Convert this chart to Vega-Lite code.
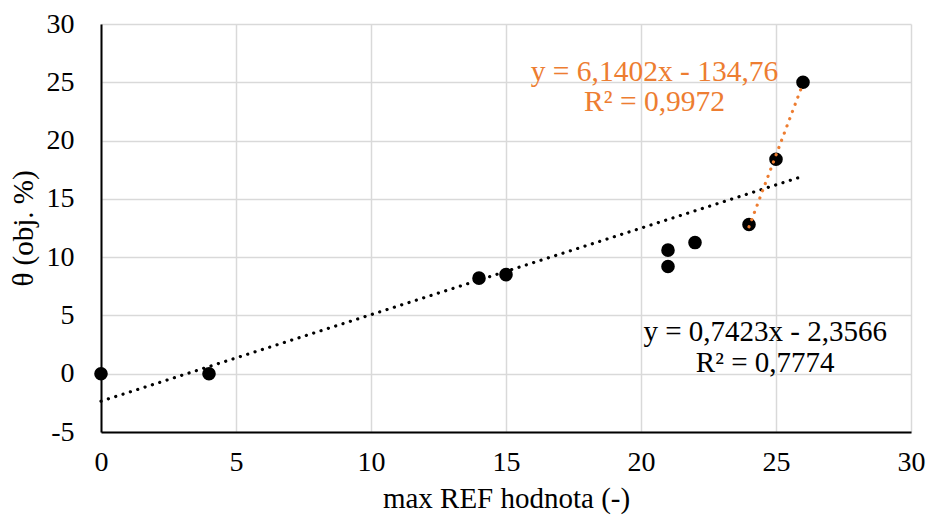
{
  "$schema": "https://vega.github.io/schema/vega-lite/v6.json",
  "width": 810,
  "height": 408,
  "autosize": {"type": "none"},
  "padding": {"left": 101, "top": 24, "right": 16, "bottom": 90},
  "background": "white",
  "config": {
    "view": {"stroke": null},
    "font": "Liberation Serif",
    "style": {
      "guide-label": {"font": "Liberation Serif", "fontSize": 28, "fill": "black"},
      "guide-title": {"font": "Liberation Serif", "fontSize": 29, "fill": "black", "fontWeight": "normal"}
    },
    "axis": {
      "labelFont": "Liberation Serif",
      "titleFont": "Liberation Serif",
      "labelFontSize": 28,
      "titleFontSize": 29,
      "titleFontWeight": "normal",
      "labelColor": "black",
      "titleColor": "black",
      "gridColor": "#d9d9d9",
      "gridWidth": 1.5,
      "domainColor": "black",
      "domainWidth": 2,
      "ticks": false,
      "labelFlush": false,
      "labelOverlap": false
    }
  },
  "datasets": {
    "pts": [
      {"x": 0, "y": 0}, {"x": 4, "y": 0}, {"x": 14, "y": 8.2}, {"x": 15, "y": 8.5},
      {"x": 21, "y": 10.6}, {"x": 21, "y": 9.2}, {"x": 22, "y": 11.25}, {"x": 24, "y": 12.8},
      {"x": 25, "y": 18.4}, {"x": 26, "y": 25.0}
    ],
    "trendBlack": [{"x": 0, "y": -2.36}, {"x": 26, "y": 16.94}],
    "trendOrange": [{"x": 24, "y": 12.6}, {"x": 26, "y": 24.9}],
    "labelsOrange": [
      {"x": 20.5, "y": 25.9, "t": "y = 6,1402x - 134,76"},
      {"x": 20.5, "y": 23.3, "t": "R² = 0,9972"}
    ],
    "labelsBlack": [
      {"x": 24.6, "y": 3.6, "t": "y = 0,7423x - 2,3566"},
      {"x": 24.6, "y": 0.95, "t": "R² = 0,7774"}
    ]
  },
  "layer": [
    {
      "data": {"name": "pts"},
      "mark": {"type": "point", "filled": true, "color": "black", "size": 185, "opacity": 1},
      "encoding": {
        "x": {"field": "x", "type": "quantitative", "scale": {"domain": [0, 30], "nice": false},
          "axis": {"values": [0, 5, 10, 15, 20, 25, 30], "title": "max REF hodnota (-)", "labelPadding": 16, "titlePadding": 8,
            "labelFont": "Liberation Serif", "labelFontSize": 28}},
        "y": {"field": "y", "type": "quantitative", "scale": {"domain": [-5, 30], "nice": false, "zero": false},
          "axis": {"values": [-5, 0, 5, 10, 15, 20, 25, 30], "title": "θ (obj. %)", "labelPadding": 27, "titlePadding": 8,
            "labelFont": "Liberation Serif", "labelFontSize": 28,
            "labelExpr": "datum.value < 0 ? '-' + abs(datum.value) : datum.label"}}
      }
    },
    {
      "data": {"name": "trendBlack"},
      "mark": {"type": "line", "color": "black", "strokeWidth": 3.2, "strokeDash": [0.1, 7.6], "strokeCap": "round"},
      "encoding": {
        "x": {"field": "x", "type": "quantitative"},
        "y": {"field": "y", "type": "quantitative"}
      }
    },
    {
      "data": {"name": "trendOrange"},
      "mark": {"type": "line", "color": "#ED7D31", "strokeWidth": 3.2, "strokeDash": [0.1, 7.6], "strokeCap": "round"},
      "encoding": {
        "x": {"field": "x", "type": "quantitative"},
        "y": {"field": "y", "type": "quantitative"}
      }
    },
    {
      "data": {"name": "labelsOrange"},
      "mark": {"type": "text", "color": "#ED7D31", "fontSize": 29.5, "font": "Liberation Serif", "align": "center", "baseline": "middle"},
      "encoding": {
        "x": {"field": "x", "type": "quantitative"},
        "y": {"field": "y", "type": "quantitative"},
        "text": {"field": "t"}
      }
    },
    {
      "data": {"name": "labelsBlack"},
      "mark": {"type": "text", "color": "black", "fontSize": 29, "font": "Liberation Serif", "align": "center", "baseline": "middle"},
      "encoding": {
        "x": {"field": "x", "type": "quantitative"},
        "y": {"field": "y", "type": "quantitative"},
        "text": {"field": "t"}
      }
    }
  ]
}
